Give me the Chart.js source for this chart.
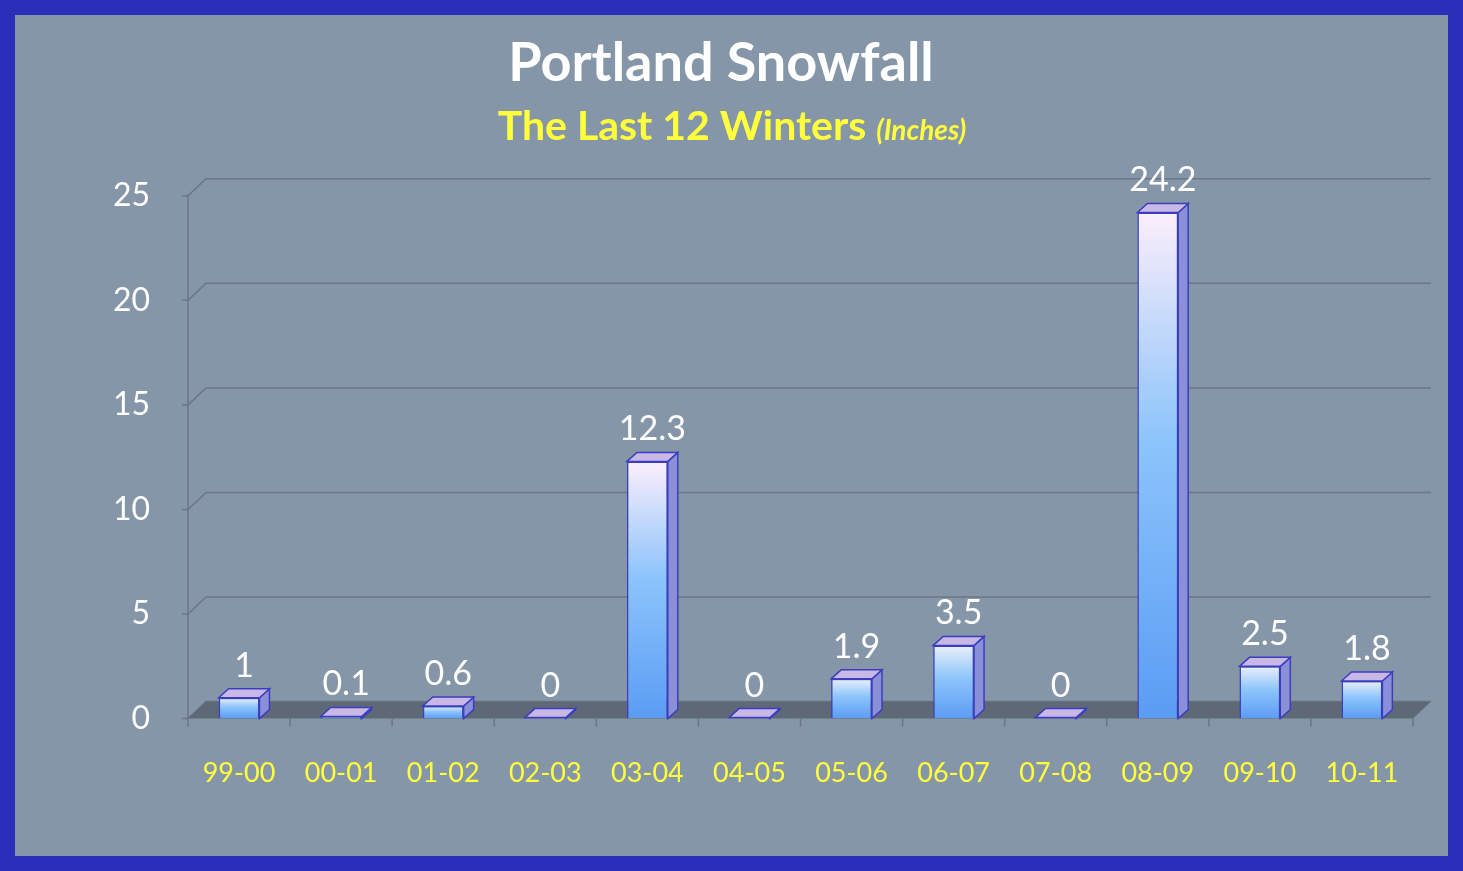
<!DOCTYPE html>
<html>
<head>
<meta charset="utf-8">
<script src="https://cdn.jsdelivr.net/npm/chart.js@4"></script>
<style>
  html, body { margin: 0; padding: 0; background: #2a2fb9; }
  #wrap {
    width: 1463px; height: 871px; box-sizing: border-box;
    border: 15px solid #2a2fb9; background: #8696a9;
  }
</style>
</head>
<body>
<div id="wrap"><canvas id="snow" width="1433" height="841"></canvas></div>
<script>
const winters = ["99-00", "00-01", "01-02", "02-03", "03-04", "04-05",
  "05-06", "06-07", "07-08", "08-09", "09-10", "10-11"];
const snowfall = [1, 0.1, 0.6, 0, 12.3, 0, 1.9, 3.5, 0, 24.2, 2.5, 1.8];
const yTicks = [0, 5, 10, 15, 20, 25];

const DX = 10, DY = 9;  // 3d depth of bars
const GX = 18, GY = 17; // depth of back wall

function barGradient(context) {
  const chart = context.chart;
  const { chartArea, scales } = chart;
  if (!chartArea || !scales.y) return "#7ab4f8";
  const base = scales.y.getPixelForValue(0);
  const top = scales.y.getPixelForValue(context.raw);
  if (Math.abs(base - top) < 1) return "#7a7fd0";
  const g = chart.ctx.createLinearGradient(0, base, 0, top);
  const frac = context.raw / 24.2;
  g.addColorStop(0, "#5b9cf4");
  g.addColorStop(0.55, "#8cc4fb");
  g.addColorStop(1, frac > 0.3 ? "#fbeefb" : "#eaf0fb");
  return g;
}

const backdrop = {
  id: "backdrop",
  beforeDatasetsDraw(chart) {
    const { ctx, chartArea, scales } = chart;
    const y = scales.y;
    ctx.save();
    ctx.strokeStyle = "#6c7684";
    ctx.lineWidth = 1.5;
    yTicks.forEach(v => {
      const py = y.getPixelForValue(v);
      ctx.beginPath();
      ctx.moveTo(chartArea.left - 6, py);
      ctx.lineTo(chartArea.left, py);
      ctx.lineTo(chartArea.left + GX, py - GY);
      ctx.lineTo(chartArea.right + GX, py - GY);
      ctx.stroke();
    });
    ctx.beginPath();
    ctx.moveTo(chartArea.left, y.getPixelForValue(0));
    ctx.lineTo(chartArea.left, y.getPixelForValue(25));
    ctx.stroke();
    const b = y.getPixelForValue(0);
    ctx.fillStyle = "#5f6876";
    ctx.beginPath();
    ctx.moveTo(chartArea.left, b);
    ctx.lineTo(chartArea.right, b);
    ctx.lineTo(chartArea.right + GX, b - GY);
    ctx.lineTo(chartArea.left + GX, b - GY);
    ctx.closePath();
    ctx.fill();
    ctx.strokeStyle = "#6c7684";
    for (let i = 0; i <= winters.length; i++) {
      const px = chartArea.left + (chartArea.right - chartArea.left) * i / winters.length;
      ctx.beginPath();
      ctx.moveTo(px, b);
      ctx.lineTo(px, b + 8);
      ctx.stroke();
    }
    ctx.restore();
  },
  afterDatasetsDraw(chart) {
    const { ctx } = chart;
    const meta = chart.getDatasetMeta(0);
    ctx.save();
    meta.data.forEach((bar, i) => {
      const w = bar.width;
      const l = bar.x - w / 2, r = bar.x + w / 2;
      const t = bar.y, bs = bar.base;
      ctx.strokeStyle = "#3a3fc0";
      ctx.lineWidth = 1.5;
      ctx.fillStyle = "#8a8fd8";
      ctx.beginPath();
      ctx.moveTo(r, t); ctx.lineTo(r + DX, t - DY);
      ctx.lineTo(r + DX, bs - DY); ctx.lineTo(r, bs); ctx.closePath();
      ctx.fill(); ctx.stroke();
      ctx.fillStyle = "#c9b8e6";
      ctx.beginPath();
      ctx.moveTo(l, t); ctx.lineTo(l + DX, t - DY);
      ctx.lineTo(r + DX, t - DY); ctx.lineTo(r, t); ctx.closePath();
      ctx.fill(); ctx.stroke();
      ctx.fillStyle = "#ffffff";
      ctx.font = "34px Lato";
      ctx.textAlign = "center";
      ctx.textBaseline = "bottom";
      ctx.fillText(String(snowfall[i]), bar.x + DX / 2, t - DY - 6);
    });
    // subtitle
    ctx.textBaseline = "alphabetic";
    ctx.textAlign = "left";
    ctx.fillStyle = "#ffff3c";
    const main = "The Last 12 Winters ";
    ctx.font = "bold 41px Lato";
    const w1 = ctx.measureText(main).width;
    ctx.font = "italic bold 28px Lato";
    const w2 = ctx.measureText("(Inches)").width;
    const sx = 717 - (w1 + w2) / 2;
    ctx.font = "bold 41px Lato";
    ctx.fillText(main, sx, 125);
    ctx.font = "italic bold 28px Lato";
    ctx.fillText("(Inches)", sx + w1, 125);
    ctx.restore();
  }
};

new Chart(document.getElementById("snow"), {
  type: "bar",
  data: {
    labels: winters,
    datasets: [{
      data: snowfall,
      backgroundColor: barGradient,
      borderColor: "#3a3fc0",
      borderWidth: 1.5,
      barPercentage: 0.4,
      categoryPercentage: 1,
      minBarLength: 1,
    }],
  },
  options: {
    responsive: false,
    animation: false,
    layout: { padding: { left: 14, right: 35, top: 0, bottom: 37 } },
    plugins: {
      legend: { display: false },
      tooltip: { enabled: false },
      title: {
        display: true,
        text: "Portland Snowfall",
        color: "#ffffff",
        font: { family: "Lato", size: 54, weight: "bold" },
        padding: { top: 16, bottom: 100 },
      },
    },
    scales: {
      y: {
        min: 0,
        max: 25,
        afterFit(scale) { scale.width = 159; },
        afterBuildTicks(scale) { scale.ticks = yTicks.map(v => ({ value: v })); },
        grid: { display: false },
        border: { display: false },
        ticks: { color: "#ffffff", font: { family: "Lato", size: 32 }, padding: 30 },
      },
      x: {
        grid: { display: false },
        border: { display: false },
        ticks: { color: "#ffff3c", font: { family: "Lato", size: 27 }, padding: 30 },
      },
    },
  },
  plugins: [backdrop],
});
</script>
</body>
</html>
